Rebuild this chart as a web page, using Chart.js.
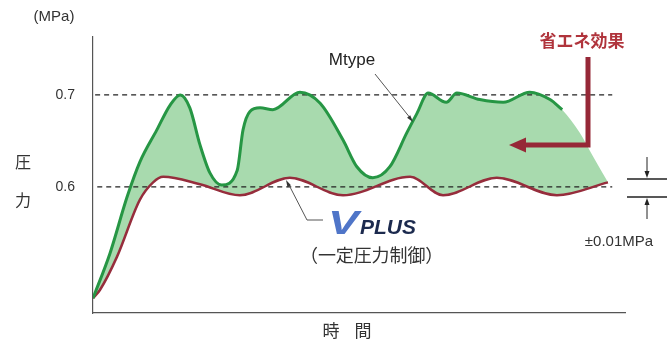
<!DOCTYPE html>
<html>
<head>
<meta charset="utf-8">
<script src="https://cdn.jsdelivr.net/npm/chart.js@4"></script>
<style>
html,body{margin:0;padding:0;background:#fff;}
#wrap{width:669px;height:340px;}
</style>
</head>
<body>
<div id="wrap"><canvas id="c" width="669" height="340"></canvas></div>
<script>
// Mtype (green) pressure curve: time (arbitrary units) and pressure (MPa)
const mtypeTime = [0, 3.2, 6.4, 8.8, 12.0, 14.5, 16.4, 18.2, 20.1, 22.0, 24.2, 27.1, 28.2, 29.5, 31.4, 33.8, 38.9, 42.7, 47.0, 49.6, 52.6, 55.8, 59.0, 60.9, 63.0, 66.4, 68.4, 72.7, 77.1, 82.1, 85.9, 88.2, 91.5, 94.0, 96.8];
const mtypePressure = [0.479, 0.528, 0.589, 0.627, 0.662, 0.689, 0.700, 0.686, 0.646, 0.615, 0.602, 0.618, 0.662, 0.682, 0.686, 0.684, 0.703, 0.691, 0.651, 0.622, 0.610, 0.622, 0.659, 0.680, 0.702, 0.692, 0.702, 0.695, 0.692, 0.703, 0.695, 0.684, 0.659, 0.633, 0.605];
// Time after which the Mtype line is no longer stroked (only the saving area continues)
const mtypeLineEnd = 88.2;
// VPLUS (red) constant pressure control curve
const vplusTime = [0, 1.3, 4.5, 8.8, 11.3, 13.2, 20.1, 27.6, 37.0, 47.0, 59.6, 65.8, 75.9, 87.2, 96.8];
const vplusPressure = [0.479, 0.488, 0.524, 0.586, 0.605, 0.611, 0.603, 0.591, 0.610, 0.591, 0.611, 0.591, 0.610, 0.591, 0.605];
// Dashed reference levels
const refLevels = [0.7, 0.6];
const refStart = [0.4, 0.8];
const refEnd = [97.6, 97.6];
// Axis
const yTickValues = [0.6, 0.7];
const yTickLabels = ['0.6', '0.7'];
const yMin = 0.463, yMax = 0.763;
const xMin = 0, xMax = 100;

const GREEN = 'rgb(38,150,68)';
const RED = 'rgb(150,45,60)';
const FILL = 'rgb(168,218,174)';
const TEXT = '#333';
const LAT = '"Liberation Sans", Arial, sans-serif';
const JP = '"Noto Sans CJK JP", sans-serif';

const toXY = (xs, ys) => xs.map((x, i) => ({x: x, y: ys[i]}));
const mtypeAll = toXY(mtypeTime, mtypePressure);
const mtypeLine = mtypeAll.filter(p => p.x <= mtypeLineEnd);

const datasets = [
  {
    label: 'Mtype',
    data: mtypeLine,
    borderColor: GREEN,
    borderWidth: 3,
    pointRadius: 0,
    cubicInterpolationMode: 'monotone',
    fill: false
  },
  {
    label: 'VPLUS',
    data: toXY(vplusTime, vplusPressure),
    borderColor: RED,
    borderWidth: 2.5,
    pointRadius: 0,
    cubicInterpolationMode: 'monotone',
    fill: false
  }
];
refLevels.forEach((lv, i) => {
  datasets.push({
    label: 'ref' + lv,
    data: [{x: refStart[i], y: lv}, {x: refEnd[i], y: lv}],
    borderColor: '#222',
    borderWidth: 1.3,
    borderDash: [5, 4],
    pointRadius: 0,
    fill: false
  });
});
datasets.push({
  label: 'saving',
  data: mtypeAll,
  borderWidth: 0,
  borderColor: 'rgba(0,0,0,0)',
  pointRadius: 0,
  cubicInterpolationMode: 'monotone',
  fill: {target: 1, above: FILL, below: FILL}
});

function arrowHead(ctx, x, y, ang, len, w, color) {
  ctx.save();
  ctx.fillStyle = color;
  ctx.translate(x, y);
  ctx.rotate(ang);
  ctx.beginPath();
  ctx.moveTo(0, 0);
  ctx.lineTo(-len, -w / 2);
  ctx.lineTo(-len, w / 2);
  ctx.closePath();
  ctx.fill();
  ctx.restore();
}

const annot = {
  id: 'annot',
  afterDraw(chart) {
    const ctx = chart.ctx;
    ctx.save();
    ctx.textBaseline = 'middle';
    ctx.textAlign = 'center';
    ctx.fillStyle = TEXT;
    // unit
    ctx.font = '15px ' + LAT;
    ctx.fillText('(MPa)', 54, 17);
    // y title
    ctx.font = '16px ' + JP;
    ctx.fillText('圧', 23, 162);
    ctx.fillText('力', 23, 200);
    // x title
    ctx.font = '17px ' + JP;
    ctx.fillText('時', 331, 331);
    ctx.fillText('間', 363, 331);

    // Mtype label + pointer
    ctx.font = '17px ' + LAT;
    ctx.fillStyle = '#222';
    ctx.fillText('Mtype', 352, 60);
    ctx.strokeStyle = '#555';
    ctx.lineWidth = 1;
    ctx.beginPath();
    ctx.moveTo(375, 74);
    ctx.lineTo(411, 119);
    ctx.stroke();
    arrowHead(ctx, 413, 122, Math.atan2(48, 38), 7, 4, '#333');

    // VPLUS pointer
    ctx.beginPath();
    ctx.moveTo(289, 185);
    ctx.lineTo(307, 220);
    ctx.lineTo(323, 220);
    ctx.stroke();
    arrowHead(ctx, 286, 180, Math.atan2(-38, -20), 7, 4, '#333');

    // VPLUS logo
    ctx.textAlign = 'left';
    ctx.textBaseline = 'alphabetic';
    const g = ctx.createLinearGradient(0, 208, 0, 234);
    g.addColorStop(0, '#4f75c8');
    g.addColorStop(1, '#1c3584');
    ctx.save();
    ctx.translate(328, 234);
    ctx.scale(1.35, 1);
    ctx.fillStyle = g;
    ctx.font = 'italic bold 34px ' + LAT;
    ctx.fillText('V', 0, 0);
    ctx.restore();
    ctx.save();
    ctx.translate(360, 234);
    ctx.scale(1.05, 1);
    ctx.fillStyle = '#1c2a4e';
    ctx.font = 'italic bold 20px ' + LAT;
    ctx.fillText('PLUS', 0, 0);
    ctx.restore();

    ctx.textAlign = 'center';
    ctx.textBaseline = 'middle';
    ctx.fillStyle = '#333';
    ctx.font = '18px ' + JP;
    const sub = ['（', '一', '定', '圧', '力', '制', '御', '）'];
    sub.forEach((ch, i) => ctx.fillText(ch, 309 + i * 17.9, 255));

    // Energy saving label + arrow
    ctx.fillStyle = 'rgb(176,52,60)';
    ctx.font = 'bold 17px ' + JP;
    ctx.fillText('省エネ効果', 582, 41);
    ctx.strokeStyle = 'rgb(150,40,55)';
    ctx.lineWidth = 5;
    ctx.lineJoin = 'miter';
    ctx.beginPath();
    ctx.moveTo(588, 57);
    ctx.lineTo(588, 145);
    ctx.lineTo(524, 145);
    ctx.stroke();
    arrowHead(ctx, 509, 145, Math.PI, 17, 15, 'rgb(150,40,55)');

    // ±0.01MPa marker
    ctx.strokeStyle = '#222';
    ctx.lineWidth = 1.5;
    ctx.beginPath();
    ctx.moveTo(627, 179); ctx.lineTo(667, 179);
    ctx.moveTo(627, 197); ctx.lineTo(667, 197);
    ctx.stroke();
    ctx.lineWidth = 1;
    ctx.beginPath();
    ctx.moveTo(647, 157); ctx.lineTo(647, 172);
    ctx.moveTo(647, 219); ctx.lineTo(647, 204);
    ctx.stroke();
    arrowHead(ctx, 647, 178, Math.PI / 2, 7, 5, '#222');
    arrowHead(ctx, 647, 198, -Math.PI / 2, 7, 5, '#222');
    ctx.fillStyle = '#333';
    ctx.font = '15px ' + LAT;
    ctx.fillText('±0.01MPa', 619, 242);
    ctx.restore();
  }
};

new Chart(document.getElementById('c'), {
  type: 'line',
  data: {datasets: datasets},
  options: {
    responsive: false,
    animation: false,
    events: [],
    layout: {padding: {top: 37, right: 44, left: 0, bottom: 0}},
    plugins: {
      legend: {display: false},
      tooltip: {enabled: false},
      filler: {drawTime: 'beforeDatasetsDraw'}
    },
    scales: {
      x: {
        type: 'linear',
        min: xMin, max: xMax,
        grid: {display: false, drawTicks: false},
        border: {display: true, color: '#555', width: 1.2},
        ticks: {display: false},
        afterFit: s => { s.height = 27; }
      },
      y: {
        type: 'linear',
        min: yMin, max: yMax,
        grid: {display: false, drawTicks: false},
        border: {display: true, color: '#555', width: 1.2},
        afterFit: s => { s.width = 93; },
        afterBuildTicks: s => { s.ticks = yTickValues.map(v => ({value: v})); },
        ticks: {
          padding: 18,
          color: TEXT,
          font: {family: 'Liberation Sans', size: 14},
          callback: v => { const i = yTickValues.findIndex(t => Math.abs(t - v) < 1e-9); return i >= 0 ? yTickLabels[i] : ''; }
        }
      }
    }
  },
  plugins: [annot]
});
</script>
</body>
</html>
